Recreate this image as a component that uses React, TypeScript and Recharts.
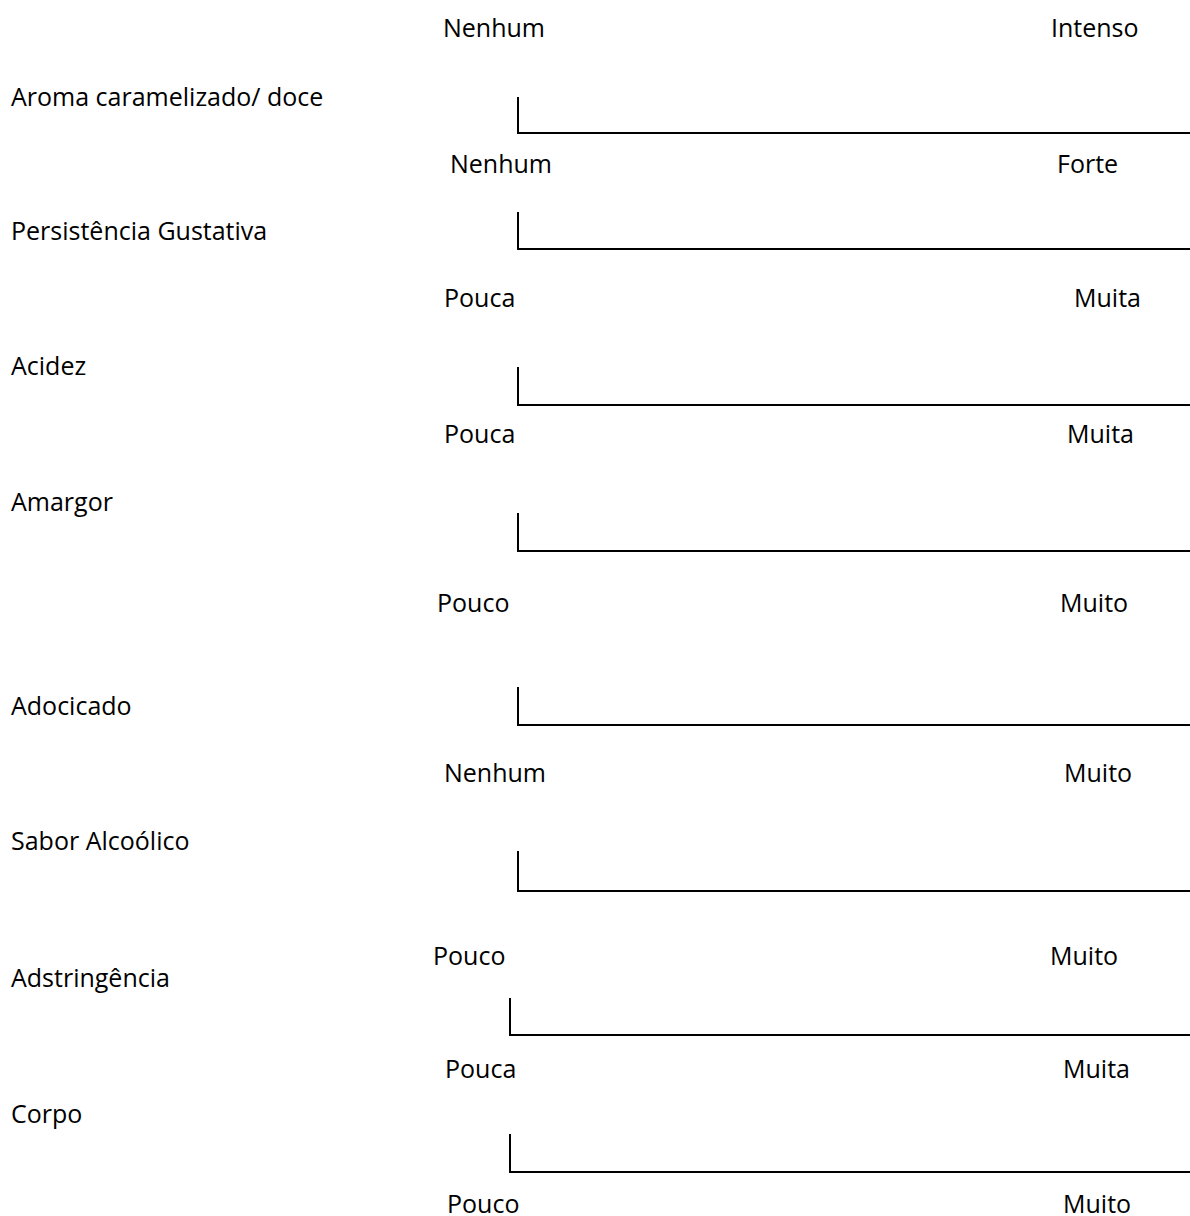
import { ComposedChart, XAxis, YAxis, ReferenceLine, ReferenceDot } from "recharts";

// sensory attributes, one scale line per attribute
const attributes = [
  "Aroma caramelizado/ doce",
  "Persistência Gustativa",
  "Acidez",
  "Amargor",
  "Adocicado",
  "Sabor Alcoólico",
  "Adstringência",
  "Corpo",
];

// anchor words above each scale (last pair belongs to a scale cut off the page)
const lowAnchors = ["Nenhum", "Nenhum", "Pouca", "Pouca", "Pouco", "Nenhum", "Pouco", "Pouca", "Pouco"];
const highAnchors = ["Intenso", "Forte", "Muita", "Muita", "Muito", "Muito", "Muito", "Muita", "Muito"];

// page layout, in px
const W = 1190;
const H = 1216;
const anchorBaseline = [37, 173, 307, 443, 612, 782, 965, 1078, 1213];
const lowAnchorX = [443, 450, 444, 444, 437, 444, 433, 445, 447];
const highAnchorX = [1051, 1057, 1074, 1067, 1060, 1064, 1050, 1063, 1063];
const labelX = 11;
const labelBaseline = [106, 240, 375, 511, 715, 850, 987, 1123];
const scaleStartX = [518, 518, 518, 518, 518, 518, 510, 510];
const scaleTopY = [98, 213, 368, 514, 688, 852, 999, 1135];
const scaleBaseY = [133, 249, 405, 551, 725, 891, 1035, 1172];

const FONT = "'Open Sans', sans-serif";

const textAt = (text: string) => (props: any) => {
  const vb = props.viewBox || {};
  const x = (vb.x ?? vb.cx ?? 0) + (vb.width ? vb.width / 2 : 0);
  const y = (vb.y ?? vb.cy ?? 0) + (vb.height ? vb.height / 2 : 0);
  return (
    <text x={x} y={y} fontSize={25} fontFamily={FONT} fill="#000">
      {text}
    </text>
  );
};

export default function App() {
  const texts: { x: number; y: number; text: string }[] = [];
  lowAnchors.forEach((t, i) => texts.push({ x: lowAnchorX[i], y: anchorBaseline[i], text: t }));
  highAnchors.forEach((t, i) => texts.push({ x: highAnchorX[i], y: anchorBaseline[i], text: t }));
  attributes.forEach((t, i) => texts.push({ x: labelX, y: labelBaseline[i], text: t }));

  return (
    <div style={{ position: "absolute", left: 0, top: 0, width: W, height: H, background: "#fff" }}>
      <ComposedChart width={W} height={H} data={texts} margin={{ top: 0, right: 0, bottom: 0, left: 0 }}>
        <XAxis type="number" dataKey="x" domain={[0, W]} hide />
        <YAxis type="number" dataKey="y" domain={[0, H]} reversed hide />
        {attributes.map((a, i) => (
          <ReferenceLine
            key={`v-${a}`}
            segment={[
              { x: scaleStartX[i], y: scaleTopY[i] },
              { x: scaleStartX[i], y: scaleBaseY[i] },
            ]}
            stroke="#000"
            strokeWidth={2}
            strokeLinecap="square"
            ifOverflow="visible"
          />
        ))}
        {attributes.map((a, i) => (
          <ReferenceLine
            key={`h-${a}`}
            segment={[
              { x: scaleStartX[i], y: scaleBaseY[i] },
              { x: W, y: scaleBaseY[i] },
            ]}
            stroke="#000"
            strokeWidth={2}
            strokeLinecap="square"
            ifOverflow="visible"
          />
        ))}
        {texts.map((t, i) => (
          <ReferenceDot
            key={`t-${i}`}
            x={t.x}
            y={t.y}
            r={0}
            fill="none"
            stroke="none"
            ifOverflow="visible"
            label={{ content: textAt(t.text) }}
          />
        ))}
      </ComposedChart>
    </div>
  );
}
